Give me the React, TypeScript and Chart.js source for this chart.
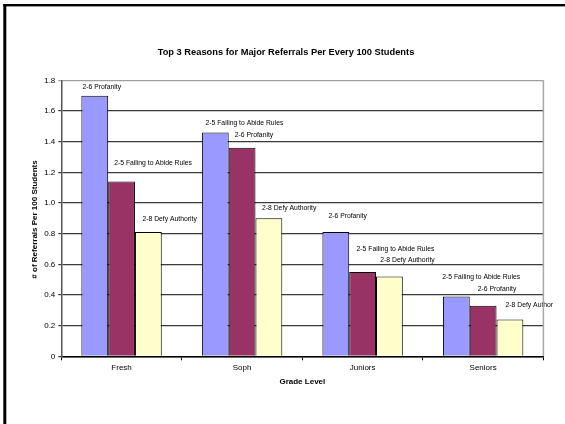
import React, { useEffect, useRef } from "react";
import { Chart, registerables } from "chart.js";

Chart.register(...registerables);

const categories = ["Fresh", "Soph", "Juniors", "Seniors"];
const reason1Values = [1.7, 1.46, 0.81, 0.39];
const reason2Values = [1.14, 1.36, 0.55, 0.33];
const reason3Values = [0.81, 0.9, 0.52, 0.24];
const reason1Labels = ["2-6 Profanity", "2-5 Failing to Abide Rules", "2-6 Profanity", "2-5 Failing to Abide Rules"];
const reason2Labels = ["2-5 Failing to Abide Rules", "2-6 Profanity", "2-5 Failing to Abide Rules", "2-6 Profanity"];
const reason3Labels = ["2-8 Defy Authority", "2-8 Defy Authority", "2-8 Defy Authority", "2-8 Defy Author"];
const yMin = 0;
const yMax = 1.8;
const yStep = 0.2;
const chartTitle = "Top 3 Reasons for Major Referrals Per Every 100 Students";
const xTitle = "Grade Level";
const yTitle = "# of Referrals Per 100 Students";

// label nudges [dx from bar left, dy above bar top] in px (layout only)
const labelNudges = [
  [[1.2, 8.7], [3.6, 9.3], [6, 16.3], [-0.7, 19.7]],
  [[6, 18.3], [6, 12.3], [7.3, 23.3], [8, 17]],
  [[7.5, 13], [6.5, 10], [4.3, 16], [9, 14.3]],
];

const FONT = "'Liberation Sans', Arial, sans-serif";

export default function App() {
  const ref = useRef<HTMLCanvasElement | null>(null);
  useEffect(() => {
    document.body.style.margin = "0";
    const canvas = ref.current!;
    const allLabels = [reason1Labels, reason2Labels, reason3Labels];

    const decor = {
      id: "decor",
      beforeDraw(chart: any) {
        const c = chart.ctx;
        c.save();
        c.fillStyle = "#ffffff";
        c.fillRect(0, 0, chart.width, chart.height);
        c.restore();
      },
      afterDatasetsDraw(chart: any) {
        const c = chart.ctx;
        c.save();
        c.font = `6.8px ${FONT}`;
        c.fillStyle = "#000";
        c.textAlign = "left";
        c.textBaseline = "middle";
        for (let d = 0; d < 3; d++) {
          const meta = chart.getDatasetMeta(d);
          meta.data.forEach((el: any, j: number) => {
            const left = el.x - el.width / 2;
            const [dx, dy] = labelNudges[d][j];
            c.fillText(allLabels[d][j], left + dx, el.y - dy);
          });
        }
        c.restore();
      },
      afterDraw(chart: any) {
        const c = chart.ctx;
        const a = chart.chartArea;
        c.save();
        // right plot border
        c.strokeStyle = "#a8a8a8";
        c.lineWidth = 1.5;
        c.beginPath();
        c.moveTo(a.right, a.top);
        c.lineTo(a.right, a.bottom);
        c.stroke();
        // outer frame
        c.fillStyle = "#000";
        c.fillRect(3.3, 4, 565, 2.4);
        c.fillRect(3.3, 4, 3, 424);
        // titles
        c.fillStyle = "#000";
        c.textAlign = "center";
        c.textBaseline = "middle";
        c.font = `bold 9.3px ${FONT}`;
        c.fillText(chartTitle, 286, 52);
        c.font = `bold 8px ${FONT}`;
        c.fillText(xTitle, (a.left + a.right) / 2, 381.5);
        c.translate(35, 219.5);
        c.rotate(-Math.PI / 2);
        c.fillText(yTitle, 0, 0);
        c.restore();
      },
    };

    const chart = new Chart(canvas, {
      type: "bar",
      data: {
        labels: categories,
        datasets: [
          { label: "Reason 1", data: reason1Values, backgroundColor: "#9999FF", borderColor: "#000", borderWidth: 1 },
          { label: "Reason 2", data: reason2Values, backgroundColor: "#993366", borderColor: "#000", borderWidth: 1 },
          { label: "Reason 3", data: reason3Values, backgroundColor: "#FFFFCC", borderColor: "#000", borderWidth: 1 },
        ],
      },
      options: {
        responsive: false,
        animation: false,
        events: [],
        layout: { padding: { left: 0, top: 80.3, right: 21.6, bottom: 0 } },
        datasets: { bar: { categoryPercentage: 0.667, barPercentage: 1 } },
        plugins: { legend: { display: false }, title: { display: false }, tooltip: { enabled: false } },
        scales: {
          x: {
            offset: true,
            grid: { display: true, drawOnChartArea: false, offset: true, tickLength: 4, color: "#000", lineWidth: 1 },
            border: { display: true, color: "#000", width: 1.5 },
            ticks: { color: "#000", padding: 3, font: { family: FONT, size: 8 } },
            afterFit: (s: any) => { s.height = 67.7; },
          },
          y: {
            min: yMin,
            max: yMax,
            grid: {
              color: (ctx: any) => (ctx.tick && Math.abs(ctx.tick.value - yMax) < 1e-6 ? "#a0a0a0" : "#3a3a3a"),
              lineWidth: 1.2,
              tickLength: 3,
            },
            border: { display: true, color: "#555", width: 1.5 },
            ticks: { stepSize: yStep, color: "#000", padding: 3, font: { family: FONT, size: 8 } },
            afterFit: (s: any) => { s.width = 61.3; },
          },
        },
      },
      plugins: [decor],
    } as any);
    return () => chart.destroy();
  }, []);
  return (
    <div style={{ width: 565, height: 424 }}>
      <canvas ref={ref} width={565} height={424} style={{ display: "block" }} />
    </div>
  );
}
